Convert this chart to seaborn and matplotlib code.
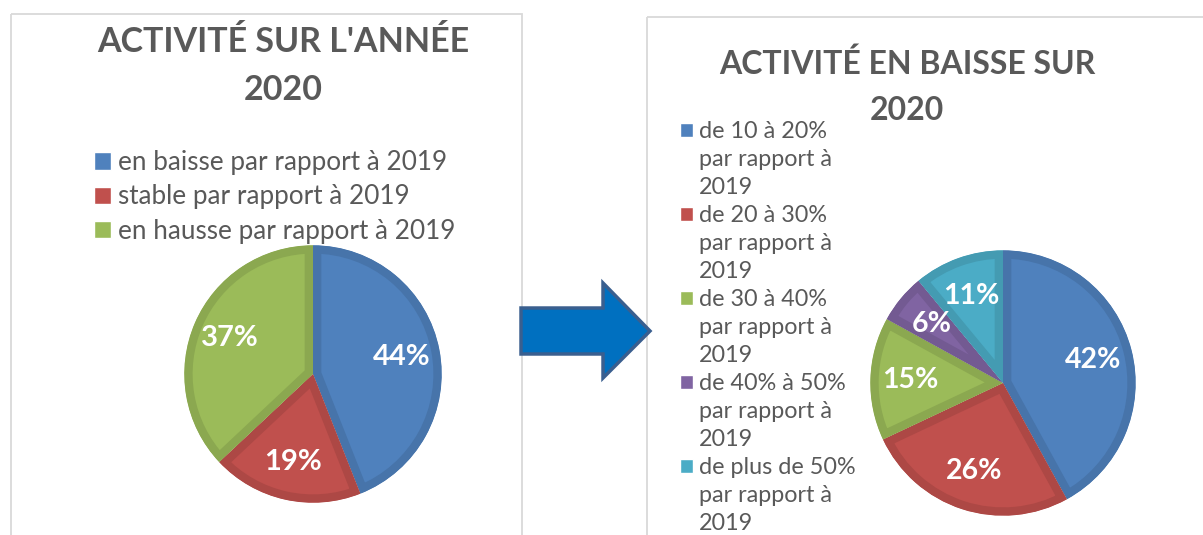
import numpy as np
import seaborn as sns
import matplotlib.pyplot as plt
from matplotlib.patches import Patch, Polygon, Rectangle
from matplotlib.colors import to_rgb

# data
left_labels = ["en baisse par rapport à 2019",
               "stable par rapport à 2019",
               "en hausse par rapport à 2019"]
left_values = [44, 19, 37]

right_labels = ["de 10 à 20%", "de 20 à 30%", "de 30 à 40%",
                "de 40% à 50%", "de plus de 50%"]
right_values = [42, 26, 15, 6, 11]

left_title = "ACTIVITÉ SUR L'ANNÉE\n2020"
right_title = "ACTIVITÉ EN BAISSE SUR\n2020"

palette = ["#4F81BD", "#C0504D", "#9BBB59", "#8064A2", "#4BACC6"]

sns.set_style("white")
plt.rcParams["font.family"] = ["Lato", "DejaVu Sans"]

W, H = 1203, 535
fig = plt.figure(figsize=(W / 100, H / 100), dpi=100)

# overlay in pixel coords for frames, arrow, titles
ax0 = fig.add_axes([0, 0, 1, 1])
ax0.set_xlim(0, W)
ax0.set_ylim(H, 0)
ax0.axis("off")

ax0.add_patch(Rectangle((11, 14), 511, 540, fill=False, edgecolor="#D9D9D9", lw=1.3))
ax0.add_patch(Rectangle((647, 17), 600, 540, fill=False, edgecolor="#D9D9D9", lw=1.3))

arrow = [(521, 308), (603, 308), (603, 283), (650, 331),
         (603, 378), (603, 354), (521, 354)]
ax0.add_patch(Polygon(arrow, closed=True, facecolor="#0070C0",
                      edgecolor="#3A5F8F", lw=2.5, zorder=3))

ax0.text(283, 66, left_title, ha="center", va="center", fontsize=24.5,
         fontweight="bold", color="#595959", linespacing=1.58)
ax0.text(907, 87, right_title, ha="center", va="center", fontsize=23,
         fontweight="bold", color="#595959", linespacing=1.72)


def darker(c, f=0.9):
    return tuple(v * f for v in to_rgb(c))


def draw_pie(cx, cy, r, values, colors, fsize):
    ax = fig.add_axes([(cx - r) / W, 1 - (cy + r) / H, 2 * r / W, 2 * r / H])
    wedges, _, autotexts = ax.pie(
        values, colors=colors, startangle=90, counterclock=False,
        autopct=lambda p: f"{p:.0f}%", pctdistance=0.7,
        textprops=dict(color="white", fontweight="bold", fontsize=fsize))
    # inner darker rim: stroke clipped to the wedge itself
    for w, c in zip(wedges, colors):
        w.set_edgecolor(darker(c))
        w.set_linewidth(12)
        w.set_clip_path(w)
        w.set_clip_on(True)
    ax.set_xlim(-1.01, 1.01)
    ax.set_ylim(-1.01, 1.01)
    ax.set_aspect("equal")
    ax.axis("off")
    return ax


draw_pie(313, 374, 130, left_values, palette[:3], 21)
draw_pie(1003, 383, 134, right_values, palette, 20.5)

# left legend
lh = [Patch(facecolor=c) for c in palette[:3]]
fig.legend(lh, left_labels, loc="upper left",
           bbox_to_anchor=(94 / W, 1 - 150 / H), frameon=False,
           fontsize=18.8, handlelength=0.65, handleheight=0.65,
           handletextpad=0.25, labelspacing=0.36,
           borderpad=0, borderaxespad=0, labelcolor="#595959")

# right legend: one row per text line, square only on the first line
rh, rl = [], []
for lab, c in zip(right_labels, palette):
    rh += [Patch(facecolor=c), Patch(facecolor="none", edgecolor="none"),
           Patch(facecolor="none", edgecolor="none")]
    rl += [lab, "par rapport à", "2019"]
fig.legend(rh, rl, loc="upper left",
           bbox_to_anchor=(680 / W, 1 - 121 / H), frameon=False,
           fontsize=16.8, handlelength=0.56, handleheight=0.56,
           handletextpad=0.26, labelspacing=0.30,
           borderpad=0, borderaxespad=0, labelcolor="#595959")

fig.savefig("out.png", dpi=100)
